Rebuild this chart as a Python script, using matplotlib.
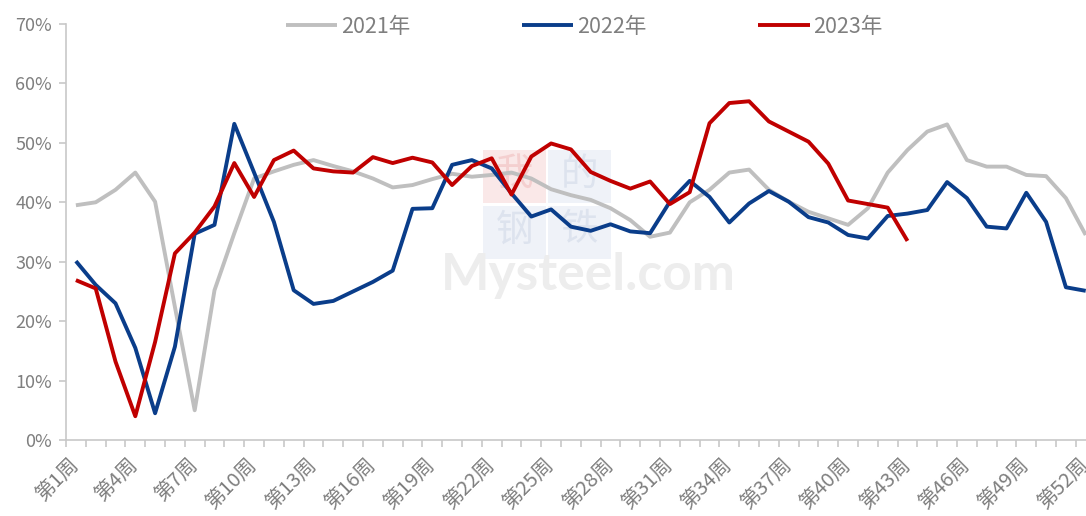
import matplotlib
matplotlib.use("Agg")
import matplotlib.pyplot as plt
from matplotlib.patches import Rectangle
from matplotlib.ticker import FixedLocator

plt.rcParams['font.family'] = ['Noto Sans CJK SC', 'DejaVu Sans']

weeks = list(range(1, 53))
week_labels = [f"第{w}周" for w in weeks]
label_weeks = list(range(1, 53, 3))

y2021 = [39.5, 40.0, 42.1, 45.0, 40.1, 22.4, 5.0, 25.2, 34.8, 44.0,
         45.2, 46.3, 47.1, 46.1, 45.2, 44.0, 42.5, 42.9, 43.9, 44.8,
         44.3, 44.6, 45.0, 44.0, 42.2, 41.2, 40.4, 39.0, 37.0, 34.2,
         34.9, 40.0, 42.1, 45.0, 45.5, 42.1, 40.1, 38.4, 37.3, 36.2,
         39.0, 45.0, 48.8, 51.9, 53.1, 47.1, 46.0, 46.0, 44.6, 44.4,
         40.7, 34.5]
y2022 = [30.1, 26.1, 23.0, 15.5, 4.5, 15.7, 34.7, 36.2, 53.2, 45.0,
         36.7, 25.2, 22.9, 23.4, 25.0, 26.6, 28.5, 38.9, 39.0, 46.3,
         47.1, 45.7, 41.5, 37.6, 38.8, 35.9, 35.2, 36.3, 35.1, 34.8,
         40.1, 43.6, 40.9, 36.6, 39.8, 41.9, 40.1, 37.5, 36.6, 34.5,
         33.9, 37.7, 38.1, 38.7, 43.4, 40.7, 35.9, 35.6, 41.6, 36.7,
         25.7, 25.1]
y2023 = [26.9, 25.5, 13.2, 4.0, 16.5, 31.4, 34.9, 39.3, 46.6, 40.9,
         47.1, 48.7, 45.7, 45.2, 45.0, 47.6, 46.6, 47.5, 46.7, 42.9,
         46.1, 47.4, 41.3, 47.7, 49.9, 48.9, 45.1, 43.6, 42.3, 43.5,
         39.7, 41.7, 53.3, 56.7, 57.0, 53.6, 51.9, 50.2, 46.5, 40.3,
         39.7, 39.1, 33.5]
series_names = ["2021年", "2022年", "2023年"]
colors = ["#BFBFBF", "#0A3D8A", "#C00000"]

W, H = 1086, 516
fig = plt.figure(figsize=(W / 100, H / 100), dpi=100)
left, right, bottom, top = 66, 1095.6, 440, 24
ax = fig.add_axes([left / W, (H - bottom) / H, (right - left) / W, (bottom - top) / H])

# faint watermark, drawn beneath the lines
wm_boxes = [(483, 150, "我", "#FAE8E8", "#F4CFCF"),
            (548, 150, "的", "#EFF2F8", "#DDE3EE"),
            (483, 206, "钢", "#EFF2F8", "#DDE3EE"),
            (548, 206, "铁", "#EFF2F8", "#DDE3EE")]
for bx, by, ch, fc, tc in wm_boxes:
    ax.add_patch(Rectangle((bx / W, (H - by - 53) / H), 63 / W, 53 / H,
                           transform=fig.transFigure, facecolor=fc,
                           edgecolor='none', zorder=0, clip_on=False))
    ax.text((bx + 31.5) / W, (H - by - 24) / H, ch, fontsize=27, color=tc,
            ha='center', va='center', zorder=0.5, transform=fig.transFigure,
            clip_on=False)
ax.text(588 / W, (H - 290) / H, "Mysteel.com", fontsize=37, color="#EDEDED",
        ha='center', va='baseline', fontweight='bold', family='Lato',
        zorder=0.5, transform=fig.transFigure, clip_on=False)

for vals, name, c in zip([y2021, y2022, y2023], series_names, colors):
    ax.plot(weeks[:len(vals)], vals, color=c, lw=2.8, label=name,
            solid_joinstyle='round', solid_capstyle='butt', zorder=3)

ax.set_xlim(0.5, 52.5)
ax.set_ylim(0, 70)
ax.set_yticks(range(0, 71, 10))
ax.set_yticklabels([f"{v}%" for v in range(0, 71, 10)])
ax.set_xticks(label_weeks)
ax.set_xticklabels([week_labels[w - 1] for w in label_weeks], rotation=45,
                   ha='right', va='center', rotation_mode='anchor')
ax.xaxis.set_minor_locator(FixedLocator([w + 0.5 for w in range(0, 53)]))

for s in ['top', 'right']:
    ax.spines[s].set_visible(False)
for s in ['left', 'bottom']:
    ax.spines[s].set_color('#C8C8C8')
    ax.spines[s].set_linewidth(1.2)

ax.tick_params(axis='y', which='major', length=5, width=1.2, color='#C8C8C8',
               labelcolor='#7F7F7F', labelsize=13, pad=5)
ax.tick_params(axis='x', which='major', length=0, labelcolor='#7F7F7F',
               labelsize=14.5, pad=16)
ax.tick_params(axis='x', which='minor', length=5, width=1.2, color='#C8C8C8')

leg = fig.legend(loc='center', bbox_to_anchor=(584 / W, (H - 27) / H), ncol=3,
                 frameon=False, fontsize=15.5, handlelength=2.4, handletextpad=0.15,
                 columnspacing=5.2, labelcolor='#7F7F7F')

fig.savefig("out.png", dpi=100)
